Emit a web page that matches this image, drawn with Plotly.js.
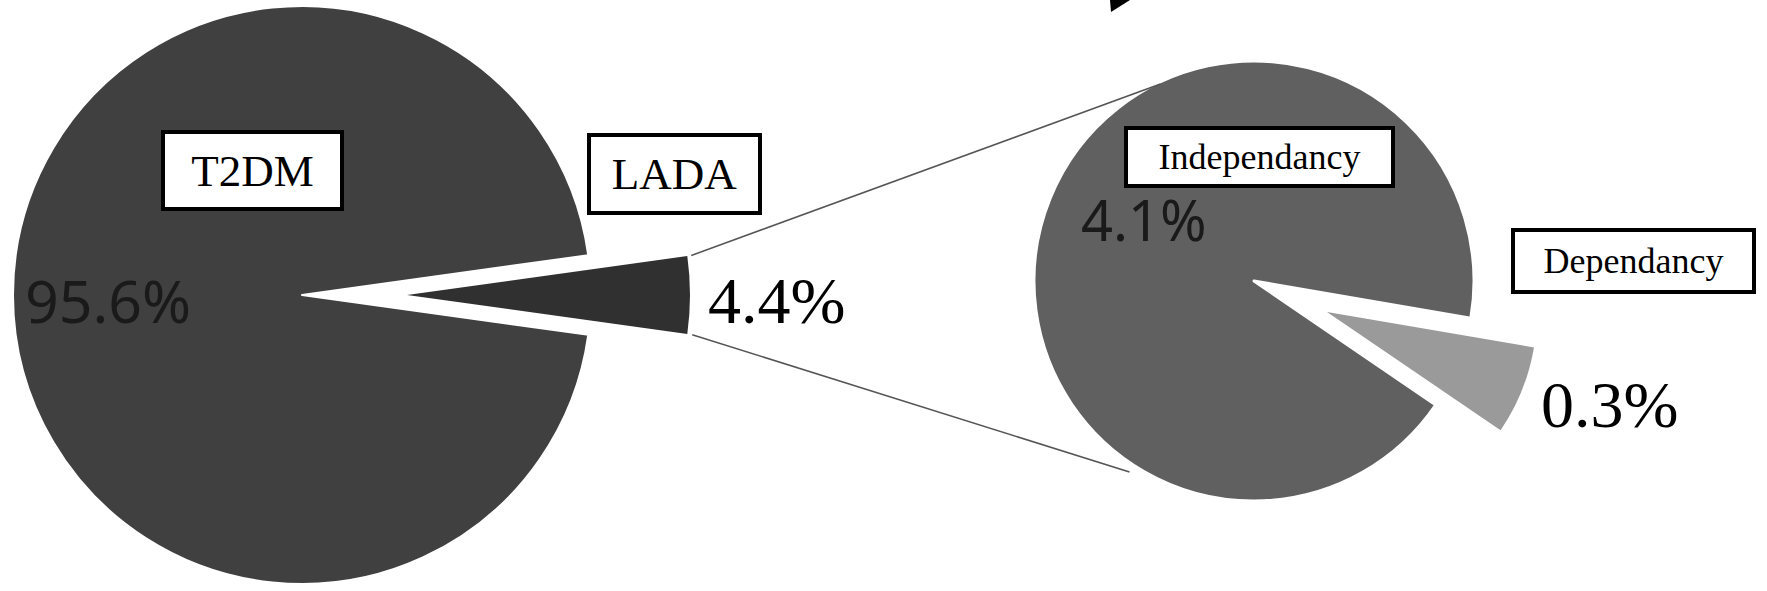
<!DOCTYPE html>
<html><head><meta charset="utf-8">
<script src="https://cdn.plot.ly/plotly-3.0.1.min.js"></script>
<style>html,body{margin:0;padding:0;background:#fff;overflow:hidden}#chart{width:1767px;height:591px}</style>
</head><body><div id="chart"></div>
<script>
// ---- data ----
const mainLabels = ['LADA', 'T2DM'];
const mainValues = [4.4, 95.6];
const subLabels = ['Dependancy', 'Independancy'];
const subValues = [0.3, 4.1];

// ---- layout helpers ----
const W = 1767, H = 591;
const px = x => x / W, py = y => 1 - y / H;
function dom(c) { return {x: [px(c.cx - c.r), px(c.cx + c.r)], y: [py(c.cy + c.r), py(c.cy - c.r)]}; }

const L  = {cx: 302,  cy: 295, r: 289};   // big pie
const Lp = {cx: 407,  cy: 295, r: 283};   // exploded LADA slice
const R  = {cx: 1254, cy: 281, r: 220};   // small pie
const Rp = {cx: 1327, cy: 312, r: 210};   // exploded Dependancy slice

const sum = a => a.reduce((s, v) => s + v, 0);
const ladaDeg = mainValues[0] / sum(mainValues) * 360;
const depDeg = subValues[0] / sum(subValues) * 360;
const mainRot = 90 - ladaDeg / 2;
const subRot = 112 - depDeg / 2;
const T = 'rgba(0,0,0,0)';

function pie(labels, values, c, colors, widths, rot) {
  return {type: 'pie', labels: labels, values: values, sort: false, direction: 'clockwise',
    rotation: rot, domain: dom(c), textinfo: 'none', hoverinfo: 'skip', showlegend: false,
    marker: {colors: colors, line: {color: '#ffffff', width: widths}}};
}

const data = [
  pie(mainLabels, mainValues, L,  [T, '#404040'], [0, 2], mainRot),
  pie(mainLabels, mainValues, Lp, ['#303030', T], [0, 0], mainRot),
  pie(subLabels, subValues, R,  [T, '#606060'], [0, 3], subRot),
  pie(subLabels, subValues, Rp, ['#9a9a9a', T], [0, 0], subRot)
];

function pt(c, deg, r) {
  const a = deg * Math.PI / 180;
  return [c.cx + r * Math.sin(a), c.cy - r * Math.cos(a)];
}
const c1 = pt(Lp, mainRot, Lp.r + 4);
const c2 = pt(Lp, mainRot + ladaDeg, Lp.r + 5);
const e1 = pt(R, 334.6, R.r - 2);
const e2 = pt(R, 213.1, R.r + 8);

const lineStyle = {color: '#555555', width: 1.6};
const shapes = [
  {type: 'line', xref: 'paper', yref: 'paper', x0: px(c1[0]), y0: py(c1[1]), x1: px(e1[0]), y1: py(e1[1]), line: lineStyle},
  {type: 'line', xref: 'paper', yref: 'paper', x0: px(c2[0]), y0: py(c2[1]), x1: px(e2[0]), y1: py(e2[1]), line: lineStyle},
  {type: 'path', xref: 'paper', yref: 'paper', fillcolor: '#000000', line: {width: 0},
   path: `M${px(1110)},${py(0)} L${px(1130)},${py(0)} L${px(1111)},${py(12)} Z`}
];

const pct = v => v.toFixed(1) + '%';
const serif = 'Liberation Serif, Times New Roman, serif';
const sans = 'Noto Sans, sans-serif';

function boxLabel(text, cx, cy, w, h, size) {
  return {text: text, xref: 'paper', yref: 'paper', x: px(cx), y: py(cy), xanchor: 'center', yanchor: 'middle',
    showarrow: false, width: w, height: h, bgcolor: '#ffffff', bordercolor: '#000000', borderwidth: 4, borderpad: 0,
    font: {family: serif, size: size, color: '#000000'}};
}
function pctLabel(text, x, cy, size, family, color) {
  return {text: text, xref: 'paper', yref: 'paper', x: px(x), y: py(cy), xanchor: 'left', yanchor: 'middle',
    showarrow: false, font: {family: family, size: size, color: color}};
}

const annotations = [
  boxLabel(mainLabels[1], 252.5, 170.5, 175, 73, 45),
  boxLabel(mainLabels[0], 674.5, 174, 167, 74, 45),
  boxLabel(subLabels[1], 1259.5, 157, 263, 54, 36),
  boxLabel(subLabels[0], 1633.5, 261, 237, 58, 36),
  pctLabel(pct(mainValues[1]), 23, 300, 59, sans, '#1a1a1a'),
  pctLabel(pct(mainValues[0]), 706, 300, 66, serif, '#000000'),
  pctLabel(pct(subValues[1]), 1079, 219, 56, sans, '#1a1a1a'),
  pctLabel(pct(subValues[0]), 1539, 404, 66, serif, '#000000')
];

Plotly.newPlot('chart', data, {
  width: W, height: H, margin: {l: 0, r: 0, t: 0, b: 0, pad: 0},
  paper_bgcolor: '#ffffff', plot_bgcolor: '#ffffff', showlegend: false,
  shapes: shapes, annotations: annotations
}, {staticPlot: true, displayModeBar: false});
</script>
</body></html>
